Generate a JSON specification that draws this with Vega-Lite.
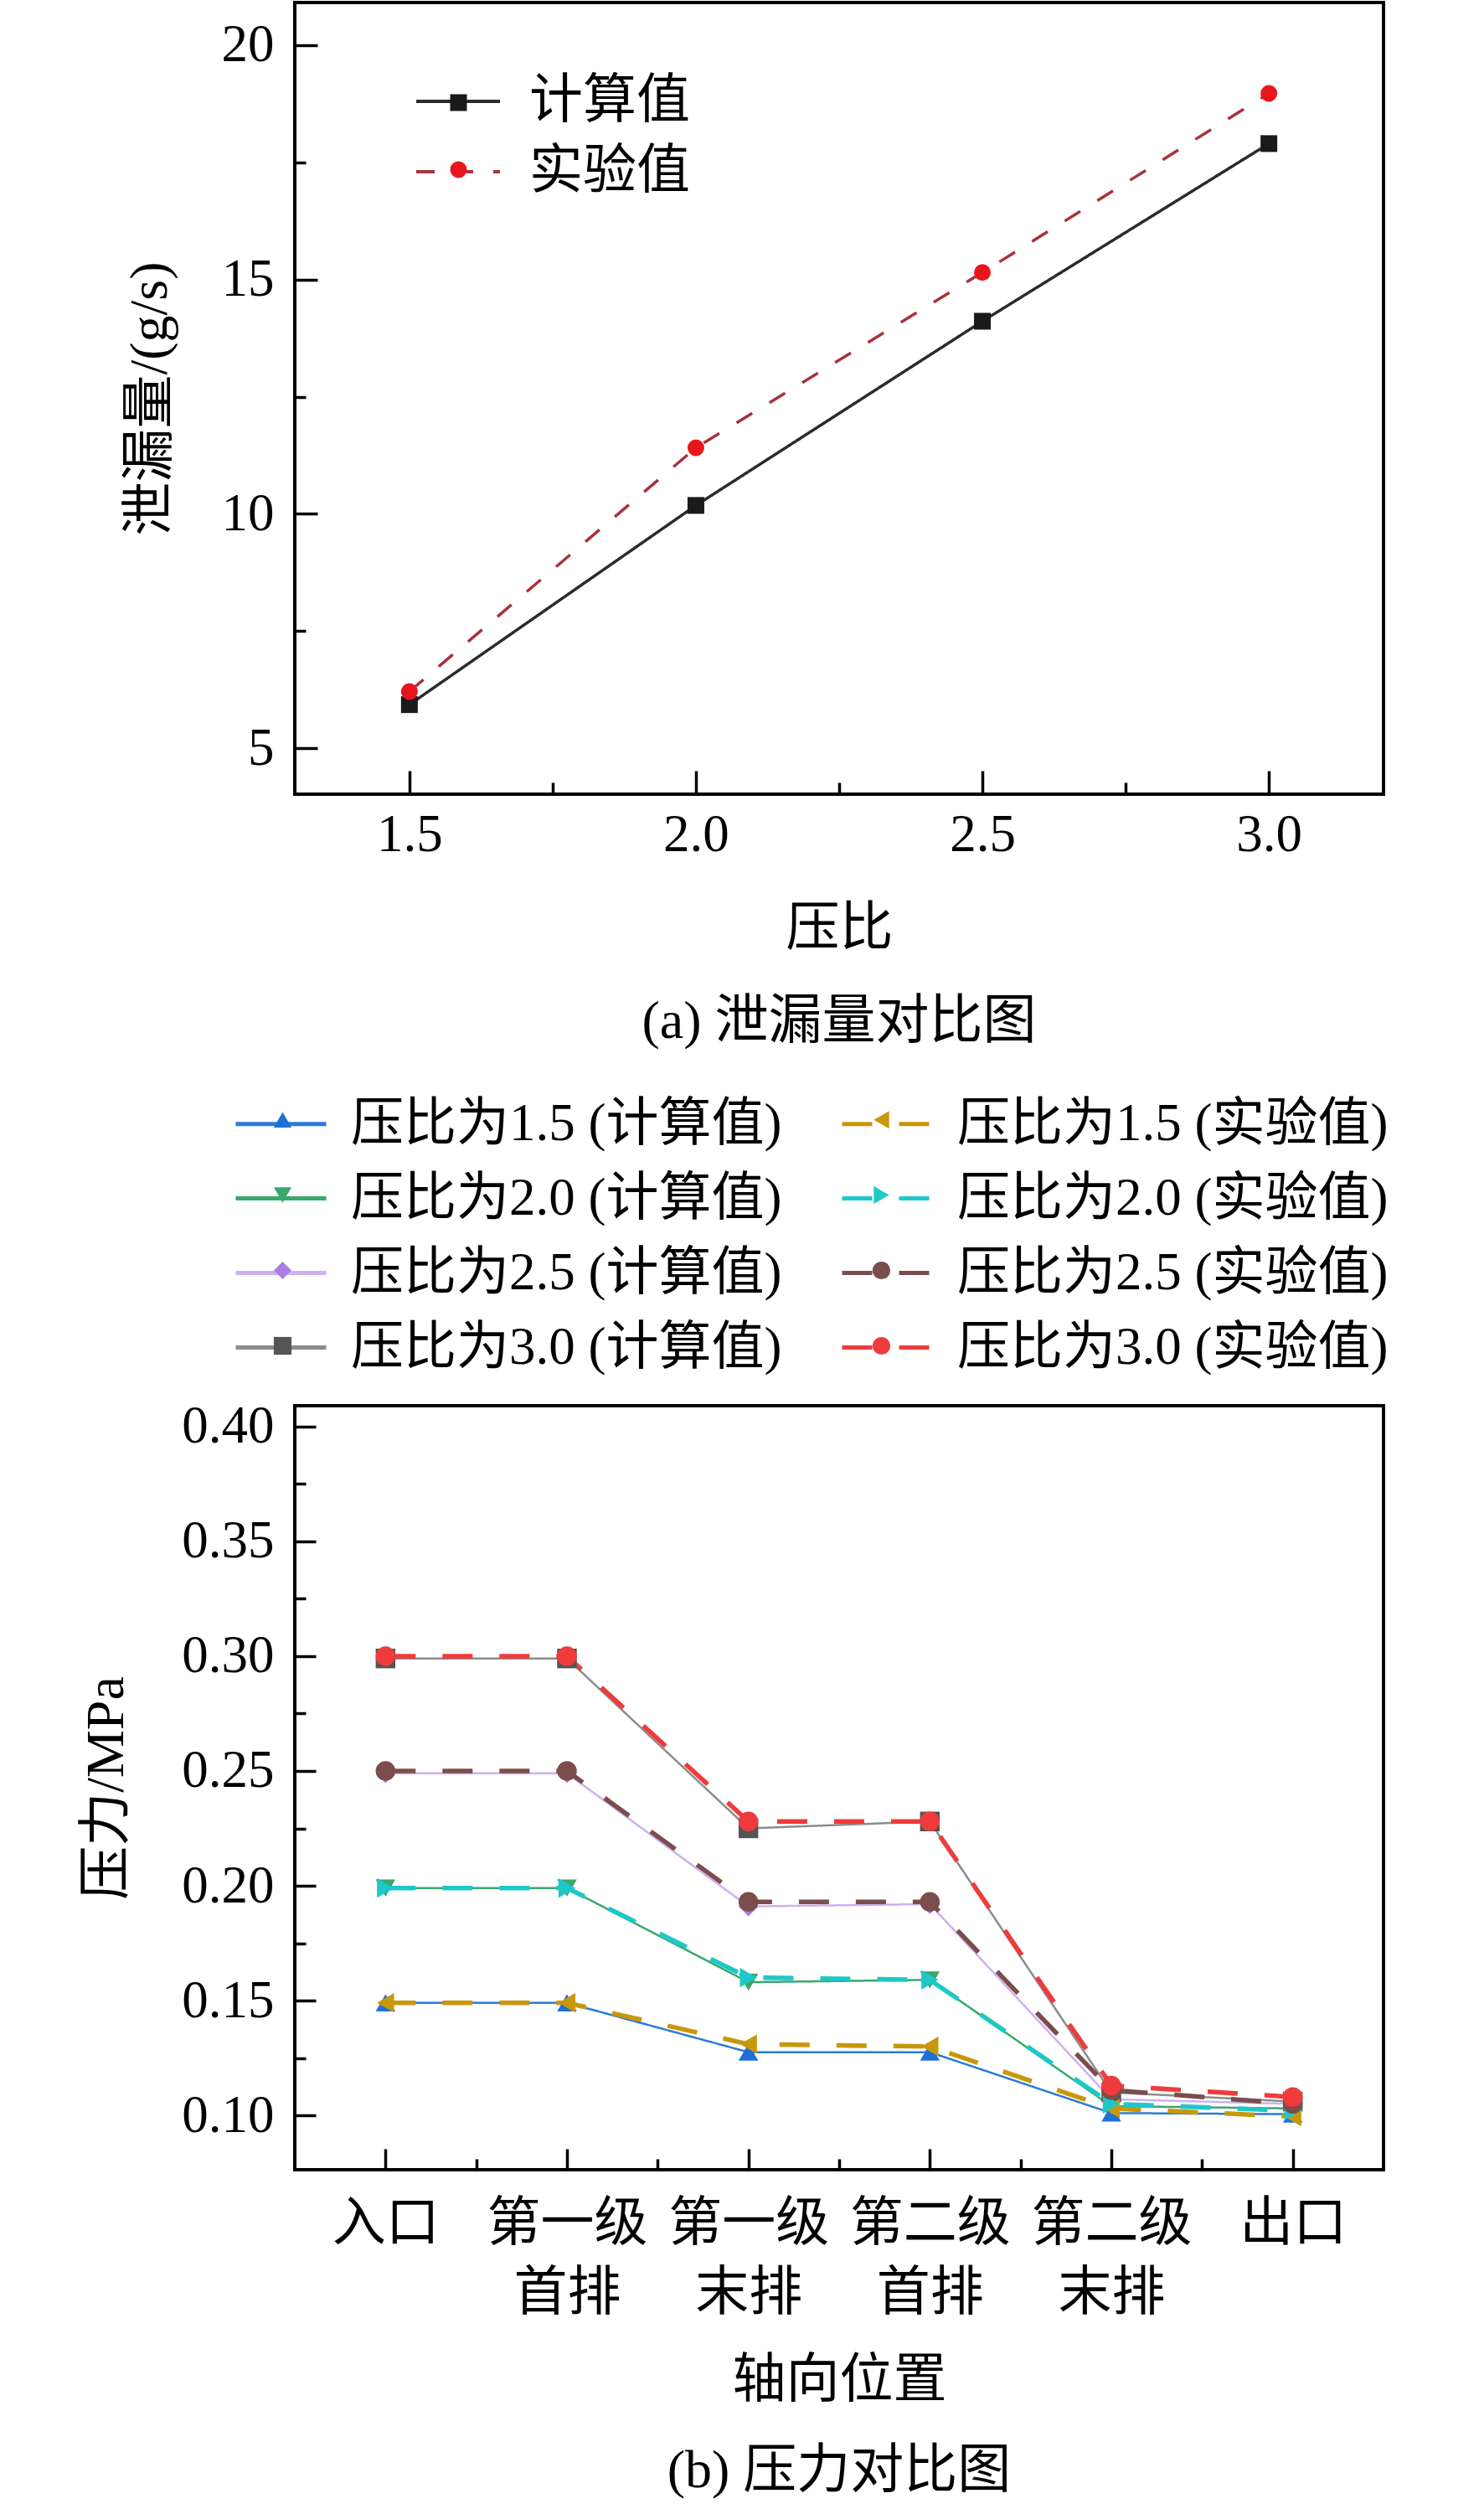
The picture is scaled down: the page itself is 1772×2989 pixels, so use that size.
{
  "$schema": "https://vega.github.io/schema/vega-lite/v6.json",
  "background": "white",
  "padding": {"left": 93, "top": 1, "right": 20, "bottom": 10},
  "autosize": {"type": "pad"},
  "bounds": "flush",
  "spacing": 730,
  "resolve": {
    "scale": {"stroke": "independent", "strokeDash": "independent", "fill": "independent", "shape": "independent"},
    "legend": {"stroke": "independent", "strokeDash": "independent", "fill": "independent", "shape": "independent"}
  },
  "config": {
    "font": "Liberation Serif, Noto Sans CJK SC",
    "view": {"stroke": "black", "strokeWidth": 4},
    "axis": {
      "domain": false,
      "grid": false,
      "tickColor": "black",
      "tickWidth": 3.5,
      "labelFont": "Liberation Serif, Noto Sans CJK SC",
      "titleFont": "Liberation Serif, Noto Sans CJK SC",
      "labelColor": "black",
      "titleColor": "black",
      "labelFontSize": 63,
      "labelLimit": 1000,
      "titleFontSize": 64,
      "titleFontWeight": "normal"
    },
    "legend": {
      "labelFont": "Liberation Serif, Noto Sans CJK SC",
      "labelFontSize": 63,
      "labelColor": "black",
      "labelLimit": 1000,
      "padding": 0
    },
    "title": {"font": "Liberation Serif, Noto Sans CJK SC", "fontSize": 64, "fontWeight": "normal", "color": "black"}
  },
  "vconcat": [
    {
      "width": 1300,
      "height": 945,
      "title": {"text": "(a) 泄漏量对比图", "orient": "bottom", "offset": 48, "anchor": "middle"},
      "data": {
        "values": [
          {"压比": 1.5, "类型": "计算值", "泄漏量": 5.93},
          {"压比": 2.0, "类型": "计算值", "泄漏量": 10.18},
          {"压比": 2.5, "类型": "计算值", "泄漏量": 14.11},
          {"压比": 3.0, "类型": "计算值", "泄漏量": 17.9},
          {"压比": 1.5, "类型": "实验值", "泄漏量": 6.21},
          {"压比": 2.0, "类型": "实验值", "泄漏量": 11.41},
          {"压比": 2.5, "类型": "实验值", "泄漏量": 15.15},
          {"压比": 3.0, "类型": "实验值", "泄漏量": 18.97}
        ]
      },
      "encoding": {
        "x": {
          "field": "压比", "type": "quantitative",
          "scale": {"domain": [1.3, 3.2], "nice": false, "zero": false},
          "axis": {
            "title": "压比",
            "values": [1.5, 1.75, 2, 2.25, 2.5, 2.75, 3],
            "labelExpr": "abs(datum.value * 2 - round(datum.value * 2)) < 0.001 ? format(datum.value, '.1f') : ''",
            "tickSize": {"condition": {"test": "abs(datum.value * 2 - round(datum.value * 2)) < 0.001", "value": -28}, "value": -14},
            "labelPadding": 45,
            "titlePadding": 48
          }
        },
        "y": {
          "field": "泄漏量", "type": "quantitative",
          "scale": {"domain": [4.02, 20.91], "nice": false, "zero": false},
          "axis": {
            "title": "泄漏量/(g/s)",
            "values": [5, 7.5, 10, 12.5, 15, 17.5, 20],
            "labelExpr": "datum.value % 5 === 0 ? format(datum.value, 'd') : ''",
            "tickSize": {"condition": {"test": "datum.value % 5 === 0", "value": -27}, "value": -13},
            "labelPadding": 52,
            "titlePadding": 53
          }
        }
      },
      "layer": [
        {
          "mark": {"type": "line", "strokeWidth": 3.5},
          "encoding": {
            "stroke": {
              "field": "类型", "type": "nominal",
              "scale": {"domain": ["计算值", "实验值"], "range": ["#2b2b2b", "#a8323e"]},
              "legend": {
                "title": null, "orient": "none", "legendX": 143, "legendY": 66,
                "symbolType": "stroke", "symbolSize": 10000, "symbolStrokeWidth": 4,
                "labelOffset": 33, "rowPadding": 0, "labelFontSize": 64
              }
            },
            "strokeDash": {
              "field": "类型", "type": "nominal",
              "scale": {"domain": ["计算值", "实验值"], "range": [[1, 0], [22, 24]]}
            }
          }
        },
        {
          "mark": {"type": "point", "filled": true, "size": 400, "opacity": 1, "strokeWidth": 0},
          "encoding": {
            "fill": {
              "field": "类型", "type": "nominal",
              "scale": {"domain": ["计算值", "实验值", " "], "range": ["#1a1a1a", "#e8161c", "#ffffff"]},
              "legend": {
                "title": null, "orient": "none", "legendX": 164, "legendY": 88,
                "values": ["计算值", "实验值"],
                "symbolSize": 400, "symbolStrokeWidth": 0, "symbolOpacity": 1,
                "labelExpr": "''", "labelOffset": 0, "rowPadding": 16
              }
            },
            "shape": {
              "field": "类型", "type": "nominal",
              "scale": {"domain": ["计算值", "实验值", " "], "range": ["square", "circle", "circle"]}
            }
          }
        }
      ]
    },
    {
      "width": 1300,
      "height": 912,
      "title": {"text": "(b) 压力对比图", "orient": "bottom", "offset": 45, "anchor": "middle"},
      "data": {
        "values": [
          {"位置序号": 1, "位置": "入口", "类型": "计算值", "系列": "压比为1.5 (计算值)", "压力": 0.149},
          {"位置序号": 2, "位置": "第一级首排", "类型": "计算值", "系列": "压比为1.5 (计算值)", "压力": 0.149},
          {"位置序号": 3, "位置": "第一级末排", "类型": "计算值", "系列": "压比为1.5 (计算值)", "压力": 0.1275},
          {"位置序号": 4, "位置": "第二级首排", "类型": "计算值", "系列": "压比为1.5 (计算值)", "压力": 0.1275},
          {"位置序号": 5, "位置": "第二级末排", "类型": "计算值", "系列": "压比为1.5 (计算值)", "压力": 0.101},
          {"位置序号": 6, "位置": "出口", "类型": "计算值", "系列": "压比为1.5 (计算值)", "压力": 0.1005},
          {"位置序号": 1, "位置": "入口", "类型": "计算值", "系列": "压比为2.0 (计算值)", "压力": 0.199},
          {"位置序号": 2, "位置": "第一级首排", "类型": "计算值", "系列": "压比为2.0 (计算值)", "压力": 0.199},
          {"位置序号": 3, "位置": "第一级末排", "类型": "计算值", "系列": "压比为2.0 (计算值)", "压力": 0.158},
          {"位置序号": 4, "位置": "第二级首排", "类型": "计算值", "系列": "压比为2.0 (计算值)", "压力": 0.159},
          {"位置序号": 5, "位置": "第二级末排", "类型": "计算值", "系列": "压比为2.0 (计算值)", "压力": 0.104},
          {"位置序号": 6, "位置": "出口", "类型": "计算值", "系列": "压比为2.0 (计算值)", "压力": 0.103},
          {"位置序号": 1, "位置": "入口", "类型": "计算值", "系列": "压比为2.5 (计算值)", "压力": 0.249},
          {"位置序号": 2, "位置": "第一级首排", "类型": "计算值", "系列": "压比为2.5 (计算值)", "压力": 0.249},
          {"位置序号": 3, "位置": "第一级末排", "类型": "计算值", "系列": "压比为2.5 (计算值)", "压力": 0.191},
          {"位置序号": 4, "位置": "第二级首排", "类型": "计算值", "系列": "压比为2.5 (计算值)", "压力": 0.192},
          {"位置序号": 5, "位置": "第二级末排", "类型": "计算值", "系列": "压比为2.5 (计算值)", "压力": 0.107},
          {"位置序号": 6, "位置": "出口", "类型": "计算值", "系列": "压比为2.5 (计算值)", "压力": 0.105},
          {"位置序号": 1, "位置": "入口", "类型": "计算值", "系列": "压比为3.0 (计算值)", "压力": 0.299},
          {"位置序号": 2, "位置": "第一级首排", "类型": "计算值", "系列": "压比为3.0 (计算值)", "压力": 0.299},
          {"位置序号": 3, "位置": "第一级末排", "类型": "计算值", "系列": "压比为3.0 (计算值)", "压力": 0.225},
          {"位置序号": 4, "位置": "第二级首排", "类型": "计算值", "系列": "压比为3.0 (计算值)", "压力": 0.228},
          {"位置序号": 5, "位置": "第二级末排", "类型": "计算值", "系列": "压比为3.0 (计算值)", "压力": 0.110},
          {"位置序号": 6, "位置": "出口", "类型": "计算值", "系列": "压比为3.0 (计算值)", "压力": 0.106},
          {"位置序号": 1, "位置": "入口", "类型": "实验值", "系列": "压比为1.5 (实验值)", "压力": 0.149},
          {"位置序号": 2, "位置": "第一级首排", "类型": "实验值", "系列": "压比为1.5 (实验值)", "压力": 0.149},
          {"位置序号": 3, "位置": "第一级末排", "类型": "实验值", "系列": "压比为1.5 (实验值)", "压力": 0.131},
          {"位置序号": 4, "位置": "第二级首排", "类型": "实验值", "系列": "压比为1.5 (实验值)", "压力": 0.130},
          {"位置序号": 5, "位置": "第二级末排", "类型": "实验值", "系列": "压比为1.5 (实验值)", "压力": 0.103},
          {"位置序号": 6, "位置": "出口", "类型": "实验值", "系列": "压比为1.5 (实验值)", "压力": 0.0995},
          {"位置序号": 1, "位置": "入口", "类型": "实验值", "系列": "压比为2.0 (实验值)", "压力": 0.199},
          {"位置序号": 2, "位置": "第一级首排", "类型": "实验值", "系列": "压比为2.0 (实验值)", "压力": 0.199},
          {"位置序号": 3, "位置": "第一级末排", "类型": "实验值", "系列": "压比为2.0 (实验值)", "压力": 0.160},
          {"位置序号": 4, "位置": "第二级首排", "类型": "实验值", "系列": "压比为2.0 (实验值)", "压力": 0.159},
          {"位置序号": 5, "位置": "第二级末排", "类型": "实验值", "系列": "压比为2.0 (实验值)", "压力": 0.105},
          {"位置序号": 6, "位置": "出口", "类型": "实验值", "系列": "压比为2.0 (实验值)", "压力": 0.102},
          {"位置序号": 1, "位置": "入口", "类型": "实验值", "系列": "压比为2.5 (实验值)", "压力": 0.250},
          {"位置序号": 2, "位置": "第一级首排", "类型": "实验值", "系列": "压比为2.5 (实验值)", "压力": 0.250},
          {"位置序号": 3, "位置": "第一级末排", "类型": "实验值", "系列": "压比为2.5 (实验值)", "压力": 0.193},
          {"位置序号": 4, "位置": "第二级首排", "类型": "实验值", "系列": "压比为2.5 (实验值)", "压力": 0.193},
          {"位置序号": 5, "位置": "第二级末排", "类型": "实验值", "系列": "压比为2.5 (实验值)", "压力": 0.111},
          {"位置序号": 6, "位置": "出口", "类型": "实验值", "系列": "压比为2.5 (实验值)", "压力": 0.105},
          {"位置序号": 1, "位置": "入口", "类型": "实验值", "系列": "压比为3.0 (实验值)", "压力": 0.300},
          {"位置序号": 2, "位置": "第一级首排", "类型": "实验值", "系列": "压比为3.0 (实验值)", "压力": 0.300},
          {"位置序号": 3, "位置": "第一级末排", "类型": "实验值", "系列": "压比为3.0 (实验值)", "压力": 0.228},
          {"位置序号": 4, "位置": "第二级首排", "类型": "实验值", "系列": "压比为3.0 (实验值)", "压力": 0.228},
          {"位置序号": 5, "位置": "第二级末排", "类型": "实验值", "系列": "压比为3.0 (实验值)", "压力": 0.113},
          {"位置序号": 6, "位置": "出口", "类型": "实验值", "系列": "压比为3.0 (实验值)", "压力": 0.108}
        ]
      },
      "encoding": {
        "x": {
          "field": "位置序号", "type": "quantitative",
          "scale": {"domain": [0.5, 6.5], "nice": false, "zero": false},
          "axis": {
            "title": "轴向位置",
            "values": [1, 1.5, 2, 2.5, 3, 3.5, 4, 4.5, 5, 5.5, 6],
            "labelExpr": "datum.value === 1 ? '入口' : datum.value === 2 ? ['第一级', '首排'] : datum.value === 3 ? ['第一级', '末排'] : datum.value === 4 ? ['第二级', '首排'] : datum.value === 5 ? ['第二级', '末排'] : datum.value === 6 ? '出口' : ''",
            "tickSize": {"condition": {"test": "datum.value % 1 === 0", "value": -25}, "value": -13},
            "labelPadding": 57,
            "labelLineHeight": 83,
            "labelFontSize": 64,
            "titlePadding": 40
          }
        },
        "y": {
          "field": "压力", "type": "quantitative",
          "scale": {"domain": [0.0763, 0.4091], "nice": false, "zero": false},
          "axis": {
            "title": "压力/MPa",
            "values": [0.1, 0.125, 0.15, 0.175, 0.2, 0.225, 0.25, 0.275, 0.3, 0.325, 0.35, 0.375, 0.4],
            "labelExpr": "abs(datum.value * 20 - round(datum.value * 20)) < 0.001 ? format(datum.value, '.2f') : ''",
            "tickSize": {"condition": {"test": "abs(datum.value * 20 - round(datum.value * 20)) < 0.001", "value": -25}, "value": -13},
            "labelPadding": 50,
            "titlePadding": 57
          }
        }
      },
      "layer": [
        {
          "mark": {"type": "line"},
          "encoding": {
            "stroke": {
              "field": "系列", "type": "nominal",
              "scale": {
                "domain": ["压比为1.5 (计算值)", "压比为2.0 (计算值)", "压比为2.5 (计算值)", "压比为3.0 (计算值)", "压比为1.5 (实验值)", "压比为2.0 (实验值)", "压比为2.5 (实验值)", "压比为3.0 (实验值)"],
                "range": ["#2a7bd8", "#3aa86b", "#cfb0ee", "#8c8c8c", "#c9970c", "#1ec8c8", "#7b4d4c", "#ef3b3b"]
              },
              "legend": {
                "title": null, "orient": "none", "legendX": -73, "legendY": -393,
                "columns": 2, "columnPadding": 61, "rowPadding": 0,
                "symbolType": "stroke", "symbolSize": 11664, "symbolStrokeWidth": 5,
                "labelOffset": 27, "labelFontSize": 63
              }
            },
            "strokeDash": {
              "field": "系列", "type": "nominal",
              "scale": {
                "domain": ["压比为1.5 (计算值)", "压比为2.0 (计算值)", "压比为2.5 (计算值)", "压比为3.0 (计算值)", "压比为1.5 (实验值)", "压比为2.0 (实验值)", "压比为2.5 (实验值)", "压比为3.0 (实验值)"],
                "range": [[1, 0], [1, 0], [1, 0], [1, 0], [36, 32], [36, 32], [36, 32], [36, 32]]
              }
            },
            "strokeWidth": {
              "field": "类型", "type": "nominal", "legend": null,
              "scale": {"domain": ["计算值", "实验值"], "range": [2.5, 5.5]}
            }
          }
        },
        {
          "mark": {"type": "point", "filled": true, "size": 550, "opacity": 1, "strokeWidth": 0},
          "encoding": {
            "fill": {
              "field": "系列", "type": "nominal",
              "scale": {
                "domain": ["压比为1.5 (计算值)", "压比为2.0 (计算值)", "压比为2.5 (计算值)", "压比为3.0 (计算值)", "压比为1.5 (实验值)", "压比为2.0 (实验值)", "压比为2.5 (实验值)", "压比为3.0 (实验值)", " "],
                "range": ["#1f6fd9", "#3ba66a", "#a97ee0", "#555555", "#c9970c", "#1ec8c8", "#7b4d4c", "#ef3b3b", "#ffffff"]
              },
              "legend": {
                "title": null, "orient": "none", "legendX": -46, "legendY": -373,
                "values": ["压比为1.5 (计算值)", "压比为2.0 (计算值)", "压比为2.5 (计算值)", "压比为3.0 (计算值)", "压比为1.5 (实验值)", "压比为2.0 (实验值)", "压比为2.5 (实验值)", "压比为3.0 (实验值)"],
                "columns": 2, "columnPadding": 652, "rowPadding": 26,
                "symbolSize": 450, "symbolStrokeWidth": 0, "symbolOpacity": 1,
                "labelExpr": "''", "labelOffset": 0
              }
            },
            "shape": {
              "field": "系列", "type": "nominal",
              "scale": {
                "domain": ["压比为1.5 (计算值)", "压比为2.0 (计算值)", "压比为2.5 (计算值)", "压比为3.0 (计算值)", "压比为1.5 (实验值)", "压比为2.0 (实验值)", "压比为2.5 (实验值)", "压比为3.0 (实验值)", " "],
                "range": ["triangle-up", "triangle-down", "diamond", "square", "triangle-left", "triangle-right", "circle", "circle", "circle"]
              }
            }
          }
        }
      ]
    }
  ]
}
